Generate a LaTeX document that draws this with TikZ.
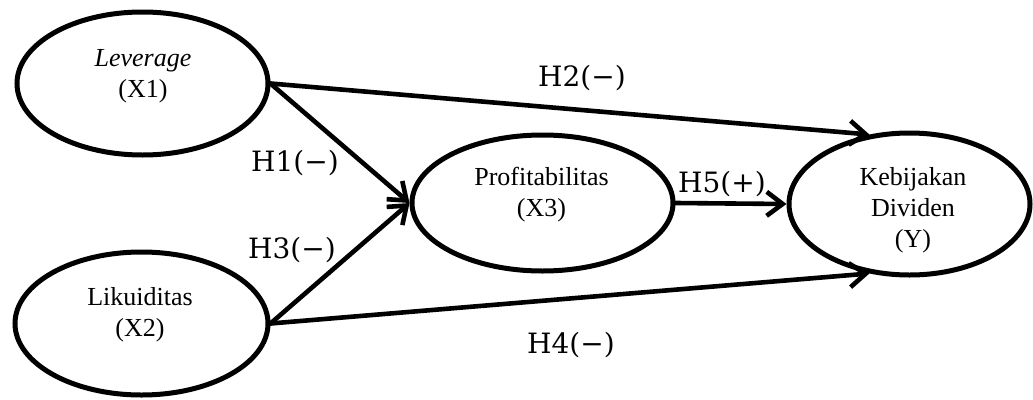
\documentclass[tikz,border=0pt]{standalone}
\usepackage{fontspec}
\setmainfont{Liberation Serif}
\newfontfamily\hypfont{DejaVu Serif}
\usetikzlibrary{shapes.geometric,arrows.meta}

\tikzset{
  construct/.style={ellipse, draw, line width=5pt, inner sep=0pt},
  caption/.style={align=center, inner sep=0pt,
    font=\fontsize{26}{31}\selectfont},
  hyp/.style={inner sep=0pt, font=\hypfont\fontsize{28}{32}\selectfont},
  path/.style={line width=4.6pt, line cap=round,
    -{Straight Barb[length=16pt,width=24pt]}},
}

\begin{document}
\begin{tikzpicture}[x=1pt,y=-1pt]
\useasboundingbox (0,0) rectangle (1033,399);

% latent constructs
\node[construct, minimum width=251pt, minimum height=143pt] (lev)  at (142.5,83.5) {};
\node[construct, minimum width=253pt, minimum height=143pt] (liq)  at (141.5,323.5) {};
\node[construct, minimum width=261pt, minimum height=136pt] (prof) at (542.5,203) {};
\node[construct, minimum width=241pt, minimum height=142pt] (div)  at (909.5,204) {};

% construct names
\node[caption] (lev-t)  at (143,76.5)   {\textit{Leverage}\\(X1)};
\node[caption] (liq-t)  at (140,314.5)  {Likuiditas\\(X2)};
\node[caption] (prof-t) at (541.5,194.5) {Profitabilitas\\(X3)};
\node[caption] (div-t)  at (913,209.8)  {Kebijakan\\Dividen\\(Y)};

% hypothesised paths
\draw[path] (lev.east)  -- (prof.west);
\draw[path] (liq.east)  -- (prof.west);
\draw[path] (lev.east)  -- (div.120);
\draw[path] (liq.east)  -- (div.240);
\draw[path] (prof.east) -- (div.west);

% hypothesis labels
\node[hyp] (h1) at (295,163) {H1(−)};
\node[hyp] (h2) at (582,78)  {H2(−)};
\node[hyp] (h3) at (292,250) {H3(−)};
\node[hyp] (h4) at (571,345) {H4(−)};
\node[hyp] (h5) at (722,184) {H5(+)};
\end{tikzpicture}
\end{document}
